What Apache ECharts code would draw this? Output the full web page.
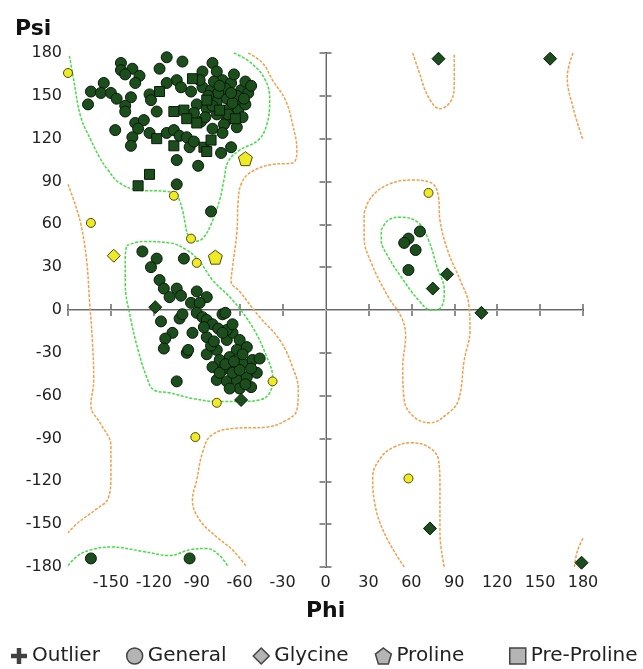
<!DOCTYPE html>
<html>
<head>
<meta charset="utf-8">
<script src="https://cdn.jsdelivr.net/npm/echarts@6/dist/echarts.min.js"></script>
<style>
  html, body { margin: 0; padding: 0; background: #fff; }
  #chart { width: 643px; height: 669px; }
</style>
</head>
<body>
<div id="chart"></div>
<script>
// tick labels
let phiTicks = [-150, -120, -90, -60, -30, 0, 30, 60, 90, 120, 150, 180];
let psiTicks = [-180, -150, -120, -90, -60, -30, 0, 30, 60, 90, 120, 150, 180];

// residues [phi, psi]
let generalFavored = [
  [-143, 173], [-143, 168], [-135, 169], [-140, 165], [-130, 164], [-133, 159], [-116, 169], [-111, 177],
  [-100, 174], [-79, 173], [-86, 167], [-76, 167], [-104, 161], [-111, 159], [-155, 159], [-164, 153],
  [-157, 152], [-150, 152], [-146, 148], [-136, 149], [-140, 143], [-140, 139], [-166, 144], [-123, 151],
  [-122, 147], [-94, 153], [-101, 156], [-86, 156], [-80, 154], [-72, 161], [-66, 159], [-59, 154],
  [-54, 152], [-76, 146], [-69, 148], [-60, 147], [-90, 144], [-83, 141], [-67, 141], [-61, 140],
  [-56, 144], [-76, 137], [-69, 133], [-118, 139], [-87, 132], [-79, 127], [-71, 130], [-133, 131],
  [-127, 133], [-131, 127], [-123, 124], [-111, 124], [-106, 126], [-102, 122], [-97, 121], [-135, 121],
  [-136, 115], [-147, 126], [-95, 114], [-92, 118], [-73, 110], [-66, 114], [-104, 105], [-89, 101],
  [-104, 88], [-80, 69], [-62, 150], [-70, 155], [-65, 145], [-75, 152], [-58, 135], [-72, 124],
  [-78, 160], [-88, 161], [-64, 165], [-56, 160], [-82, 150], [-92, 138], [-62, 128],
  [-68, 137], [-74, 157], [-57, 148], [-84, 135], [-66, 152], [-52, 157], [-79, 143],
  [-128, 41], [-118, 36], [-122, 30], [-99, 36], [-116, 21], [-113, 15], [-104, 15], [-101, 10],
  [-109, 9], [-90, 13], [-83, 9], [-94, 5], [-88, 5], [-115, -8], [-102, -6], [-100, -3],
  [-90, -2], [-86, -5], [-83, -7], [-79, -10], [-72, -3], [-75, -13], [-107, -16], [-112, -20],
  [-113, -27], [-93, -16], [-97, -30], [-104, -50], [-83, -31], [-76, -28], [-69, -21], [-65, -16],
  [-60, -21], [-62, -28], [-55, -26], [-67, -33], [-74, -35], [-79, -40], [-72, -42], [-65, -40],
  [-58, -37], [-51, -35], [-46, -34], [-76, -49], [-69, -50], [-62, -49], [-55, -47], [-48, -44],
  [-60, -55], [-52, -54], [-67, -55], [-83, -19], [-80, -25], [-69, -14], [-65, -10], [-72, -16],
  [-58, -31], [-52, -41], [-65, -44], [-74, -44], [-70, -38], [-60, -42], [-56, -52], [-64, -36],
  [-78, -22], [-85, -12], [-96, -28], [-70, -2],
  [-164, -174], [-95, -174],
  [66, 55], [58, 50], [55, 47], [63, 42], [58, 28]
];
let generalAllowed = [
  [-106, 80], [-180, 166], [-164, 61], [-94, 50], [-90, 33], [-76, -65], [-37, -50], [-91, -89],
  [72, 82], [58, -118]
];
let glycineFavored = [
  [-119, 2], [-59, -63], [85, 25], [75, 15], [109, -2], [73, -153], [179, -177], [79, 176], [157, 176]
];
let glycineAllowed = [[-148, 38]];
let prolineAllowed = [[-56, 106], [-77, 37]];
let preProFavored = [
  [-93, 162], [-116, 153], [-83, 147], [-74, 140], [-63, 134], [-106, 139], [-99, 140], [-97, 134],
  [-90, 131], [-118, 120], [-106, 115], [-85, 114], [-80, 119], [-83, 111], [-123, 95], [-131, 87]
];

// contours [phi, psi]
let favoredBeta = [
  [-179, 178], [-176, 161], [-171, 135], [-164, 119], [-158, 107], [-152, 98], [-144, 89], [-131, 84],
  [-111, 83], [-104, 80], [-100, 70], [-98, 60], [-96, 52], [-92, 48], [-86, 50], [-80, 60],
  [-74, 77], [-71, 91], [-68, 104], [-60, 112], [-47, 119], [-41, 130], [-39, 147], [-42, 161],
  [-52, 173], [-64, 180]
];
let favoredBetaBottom = [
  [-180, -179], [-173, -172], [-164, -168], [-150, -166], [-128, -169], [-109, -172], [-95, -168],
  [-83, -167], [-74, -172], [-68, -180]
];
let favoredAlpha = [
  [-139, 45], [-128, 48], [-109, 47], [-97, 42], [-88, 34], [-79, 21], [-65, 7], [-51, -12],
  [-41, -33], [-37, -47], [-39, -58], [-46, -63], [-58, -64], [-76, -64], [-93, -62], [-109, -58],
  [-120, -56], [-125, -47], [-131, -28], [-136, -7], [-140, 19], [-140, 37], [-139, 45]
];
let favoredAlphaL = [
  [39, 56], [44, 63], [53, 65], [65, 61], [72, 49], [78, 30], [83, 14], [81, 2], [74, 0], [65, 7],
  [53, 23], [44, 37], [39, 49], [39, 56]
];
let allowedMain = [
  [-54, 180], [-44, 173], [-37, 161], [-28, 147], [-23, 130], [-20, 112], [-23, 103], [-37, 102],
  [-53, 96], [-59, 88], [-61, 77], [-62, 54], [-65, 30], [-66, 20], [-60, 13], [-46, -5],
  [-32, -21], [-23, -40], [-19, -56], [-20, -70], [-27, -77], [-41, -82], [-65, -83], [-80, -88],
  [-86, -100], [-90, -119], [-93, -133], [-88, -147], [-76, -159], [-65, -168], [-55, -180]
];
let allowedLeft = [
  [-180, 88], [-176, 77], [-171, 60], [-167, 35], [-165, 7], [-163, -21], [-162, -49], [-164, -67],
  [-157, -80], [-150, -95], [-150, -116], [-152, -132], [-161, -140], [-173, -149], [-180, -156]
];
let allowedLoop = [
  [27, 68], [32, 79], [44, 88], [60, 91], [74, 89], [79, 79], [80, 63], [86, 40], [95, 19],
  [100, 5], [101, -14], [97, -35], [93, -63], [86, -72], [73, -79], [62, -75], [55, -63],
  [54, -40], [56, -18], [53, -5], [44, 9], [32, 33], [27, 51], [27, 68]
];
let allowedBottom = [
  [55, -180], [41, -156], [34, -133], [33, -117], [39, -103], [48, -96], [60, -93], [72, -96],
  [79, -105], [80, -124], [80, -156], [83, -180]
];
let allowedTop = [
  [61, 180], [65, 168], [72, 149], [80, 141], [88, 147], [90, 159], [90, 170], [90, 180]
];
let allowedTopRight = [[173, 180], [169, 163], [173, 142], [180, 119]];
let allowedBottomRight = [[180, -160], [176, -169], [174, -180]];

let green = '#1c4d1c';
let yellow = '#eeea26';
let pentagon = 'path://M5,0L10,3.8L8.1,10H1.9L0,3.8Z';
let plus = 'path://M3.6,0H6.4V3.6H10V6.4H6.4V10H3.6V6.4H0V3.6H3.6Z';

function points(favored, allowed, size, allowedSize) {
  let out = [];
  favored.forEach(function (p) {
    out.push({ value: p, symbolSize: size, itemStyle: { color: green, borderColor: '#081a08' } });
  });
  allowed.forEach(function (p) {
    out.push({ value: p, symbolSize: allowedSize, itemStyle: { color: yellow, borderColor: '#4a4a10' } });
  });
  return out;
}

function contour(data, color) {
  return {
    type: 'line',
    data: data,
    smooth: 0.4,
    symbol: 'none',
    silent: true,
    z: 2,
    lineStyle: { color: color, width: 1.5, type: [3, 1.5] }
  };
}

let contourGreen = '#44dd44';
let contourOrange = '#f0a048';

let axisLine = { lineStyle: { color: '#6a6a6a', width: 2 } };
let axisTick = { inside: true, length: 6, lineStyle: { color: '#6a6a6a', width: 1.5 } };
let legendIcon = { color: '#b4b4b4', borderColor: '#444', borderWidth: 1.5 };
let legendText = { fontSize: 20, color: '#222', fontFamily: 'DejaVu Sans' };

let option = {
  animation: false,
  grid: { left: 68, right: 60, top: 53, bottom: 102 },
  xAxis: [
    {
      type: 'value', min: -180, max: 180, interval: 30,
      axisLine: axisLine, axisTick: axisTick, splitLine: { show: false },
      axisLabel: {
        fontSize: 16, color: '#222', fontFamily: 'DejaVu Sans', margin: 8,
        formatter: function (v) { return phiTicks.indexOf(v) >= 0 ? String(v) : ''; }
      }
    },
    {
      type: 'value', position: 'top', min: -180, max: 180, interval: 30,
      axisLine: axisLine, axisTick: axisTick, splitLine: { show: false }, axisLabel: { show: false }
    }
  ],
  yAxis: [
    {
      type: 'value', min: -180, max: 180, interval: 30,
      axisLine: axisLine, axisTick: axisTick, splitLine: { show: false },
      axisLabel: {
        fontSize: 16, color: '#222', fontFamily: 'DejaVu Sans', margin: 6,
        formatter: function (v) { return psiTicks.indexOf(v) >= 0 ? String(v) : ''; }
      }
    },
    {
      type: 'value', position: 'right', min: -180, max: 180, interval: 30,
      axisLine: axisLine, axisTick: axisTick, splitLine: { show: false }, axisLabel: { show: false }
    }
  ],
  legend: [
    {
      left: 11, top: 646, padding: 0, itemGap: 26, itemWidth: 16, itemHeight: 16,
      textStyle: legendText,
      data: [
        { name: 'Outlier', icon: plus, itemStyle: { color: '#111', borderWidth: 0 } },
        { name: 'General', icon: 'circle', itemStyle: legendIcon },
        { name: 'Glycine', icon: 'diamond', itemStyle: legendIcon },
        { name: 'Proline', icon: pentagon, itemStyle: legendIcon }
      ]
    },
    {
      left: 509, top: 646, padding: 0, itemWidth: 16, itemHeight: 16,
      textStyle: legendText,
      data: [{ name: 'Pre-Proline', icon: 'rect', itemStyle: legendIcon }]
    }
  ],
  graphic: [
    { type: 'text', left: 15, top: 18, style: { text: 'Psi', font: 'bold 22px "DejaVu Sans"', fill: '#111' } },
    { type: 'text', left: 306, top: 600, style: { text: 'Phi', font: 'bold 22px "DejaVu Sans"', fill: '#111' } }
  ],
  series: [
    contour(favoredBeta, contourGreen),
    contour(favoredBetaBottom, contourGreen),
    contour(favoredAlpha, contourGreen),
    contour(favoredAlphaL, contourGreen),
    contour(allowedMain, contourOrange),
    contour(allowedLeft, contourOrange),
    contour(allowedLoop, contourOrange),
    contour(allowedBottom, contourOrange),
    contour(allowedTop, contourOrange),
    contour(allowedTopRight, contourOrange),
    contour(allowedBottomRight, contourOrange),
    { name: 'Outlier', type: 'scatter', symbol: plus, data: [] },
    {
      name: 'General', type: 'scatter', symbol: 'circle', z: 3,
      itemStyle: { borderWidth: 1, opacity: 1 },
      data: points(generalFavored, generalAllowed, 11, 9),
      markLine: {
        silent: true, symbol: ['none', 'none'], z: 1, animation: false,
        label: { show: false },
        lineStyle: { color: '#b8b8b8', width: 1, type: 'solid', opacity: 1 },
        data: [{ xAxis: 0 }, { yAxis: 0 }]
      }
    },
    {
      name: 'Pre-Proline', type: 'scatter', symbol: 'rect', z: 4,
      itemStyle: { borderWidth: 1, opacity: 1 },
      data: points(preProFavored, [], 10, 10)
    },
    {
      name: 'Glycine', type: 'scatter', symbol: 'diamond', z: 4,
      itemStyle: { borderWidth: 1, opacity: 1 },
      data: points(glycineFavored, glycineAllowed, 13, 13)
    },
    {
      name: 'Proline', type: 'scatter', symbol: pentagon, z: 4,
      itemStyle: { borderWidth: 1, opacity: 1 },
      data: points([], prolineAllowed, 14, 14)
    }
  ]
};

let chart = echarts.init(document.getElementById('chart'));
chart.setOption(option);
</script>
</body>
</html>
